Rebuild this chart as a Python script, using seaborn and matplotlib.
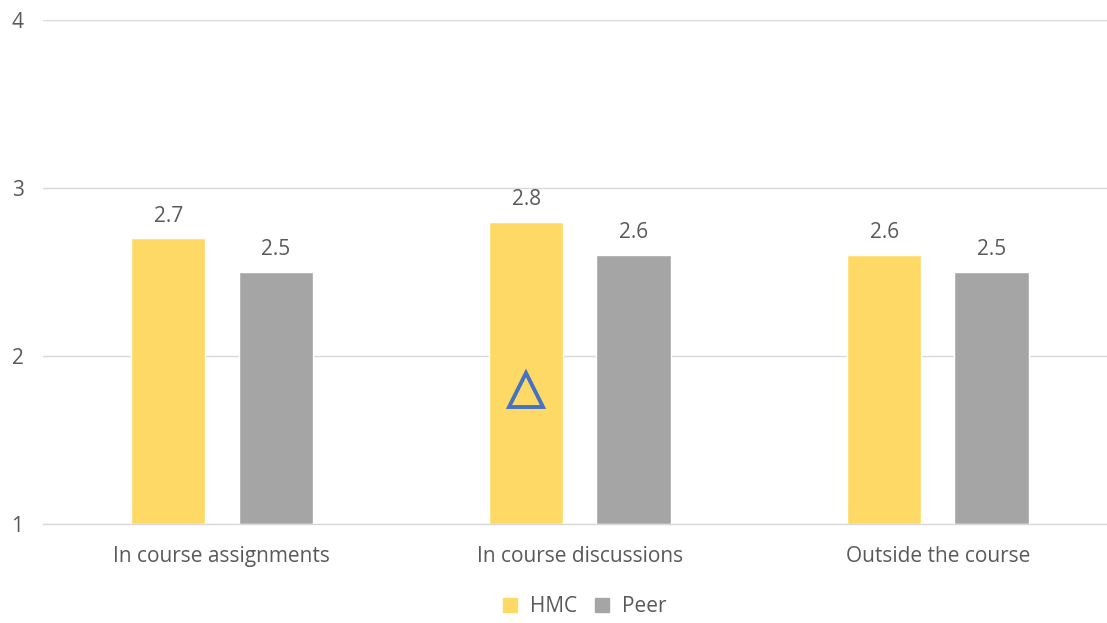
import matplotlib
matplotlib.use("Agg")
import matplotlib.pyplot as plt
import seaborn as sns
import pandas as pd
from matplotlib.lines import Line2D

categories = ["In course assignments", "In course discussions", "Outside the course"]
hmc_values = [2.7, 2.8, 2.6]
peer_values = [2.5, 2.6, 2.5]
series_names = ["HMC", "Peer"]
y_ticks = [1, 2, 3, 4]

# flag shown inside the HMC discussions bar
flag_category = "In course discussions"
flag_value = 1.8

hmc_color = "#FFD966"
peer_color = "#A5A5A5"
text_color = "#595959"

df = pd.DataFrame({
    "category": categories * 2,
    "series": [series_names[0]] * 3 + [series_names[1]] * 3,
    "value": hmc_values + peer_values,
})

sns.set_theme(style="white")
plt.rcParams["font.family"] = ["Open Sans", "DejaVu Sans"]

fig = plt.figure(figsize=(11.07, 6.23), dpi=100)
ax = fig.add_axes([0.0388, 0.159, 0.970, 0.809])

base = 1
plot_df = df.assign(height=df["value"] - base)
sns.barplot(data=plot_df, x="category", y="height", hue="series",
            palette=[hmc_color, peer_color], width=0.6, gap=0.31,
            bottom=base, ax=ax, legend=False, saturation=1)

ax.set_ylim(1, 4)
ax.set_xlim(-0.5, 2.5)
ax.set_yticks(y_ticks)
ax.set_yticklabels([str(t) for t in y_ticks])
ax.yaxis.grid(True, color="#D9D9D9", linewidth=1)
ax.set_axisbelow(True)
for side in ["top", "right", "left"]:
    ax.spines[side].set_visible(False)
ax.spines["bottom"].set_color("#D9D9D9")
ax.spines["bottom"].set_linewidth(1)
ax.tick_params(axis="both", length=0, colors=text_color, labelsize=15)
ax.tick_params(axis="x", pad=16)
ax.tick_params(axis="y", pad=14)
ax.set_xlabel("")
ax.set_ylabel("")

# value labels above each bar
for container in ax.containers:
    for rect in container:
        top = rect.get_y() + rect.get_height()
        ax.annotate(f"{top:.1f}", (rect.get_x() + rect.get_width() / 2, top),
                    xytext=(0, 8.5), textcoords="offset points",
                    ha="center", va="bottom", fontsize=15, color=text_color)

# triangle marker on the HMC discussions bar
hmc_bars = ax.containers[0]
idx = categories.index(flag_category)
bar = hmc_bars[idx]
ax.plot(bar.get_x() + bar.get_width() / 2, flag_value, marker="^",
        markersize=25, markerfacecolor="none", markeredgecolor="#4472C4",
        markeredgewidth=2.8, linestyle="none", clip_on=False)

handles = [Line2D([0], [0], marker="s", linestyle="none", markersize=10,
                  markerfacecolor=c, markeredgecolor=c)
           for c in [hmc_color, peer_color]]
fig.legend(handles, series_names, loc="center", bbox_to_anchor=(0.522, 0.026),
           ncol=2, frameon=False, fontsize=15, labelcolor=text_color,
           handletextpad=0.0, columnspacing=0.15)

fig.savefig("out.png", dpi=100)
